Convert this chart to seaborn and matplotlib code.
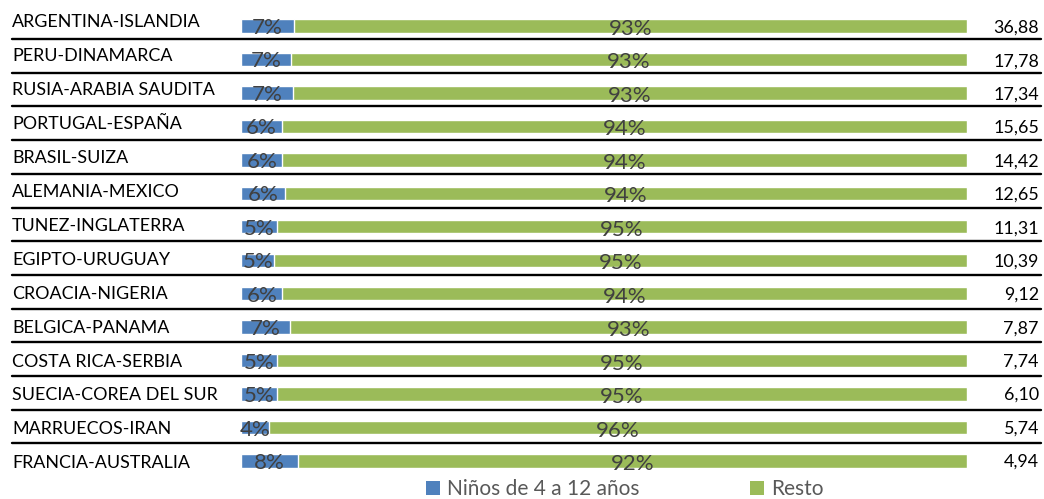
import matplotlib
matplotlib.use("Agg")
import matplotlib.pyplot as plt
import seaborn as sns
import pandas as pd
from matplotlib.patches import Patch

# ---------------- data ----------------
partidos = [
    "ARGENTINA-ISLANDIA", "PERU-DINAMARCA", "RUSIA-ARABIA SAUDITA",
    "PORTUGAL-ESPAÑA", "BRASIL-SUIZA", "ALEMANIA-MEXICO",
    "TUNEZ-INGLATERRA", "EGIPTO-URUGUAY", "CROACIA-NIGERIA",
    "BELGICA-PANAMA", "COSTA RICA-SERBIA", "SUECIA-COREA DEL SUR",
    "MARRUECOS-IRAN", "FRANCIA-AUSTRALIA",
]
ninos = [7.3, 6.9, 7.2, 5.6, 5.7, 6.0, 5.0, 4.6, 5.7, 6.8, 4.9, 5.0, 3.9, 7.8]
resto = [92.7, 93.1, 92.8, 94.4, 94.3, 94.0, 95.0, 95.4, 94.3, 93.2, 95.1, 95.0, 96.1, 92.2]
audiencia = [36.88, 17.78, 17.34, 15.65, 14.42, 12.65, 11.31, 10.39,
             9.12, 7.87, 7.74, 6.10, 5.74, 4.94]
series = ["Niños de 4 a 12 años", "Resto"]

BLUE = "#4F81BD"
GREEN = "#9BBB59"
PCT_COLOR = "#404040"
LEG_COLOR = "#595959"

sns.set_theme(style="white")
plt.rcParams["font.family"] = ["Lato", "DejaVu Sans"]

W, H = 1044, 499
fig = plt.figure(figsize=(W / 100, H / 100), dpi=100)

n = len(partidos)
row_h = 33.46
top_pix = 26 - row_h / 2
bot_pix = 26 + (n - 0.5) * row_h
x0, x1 = 241, 967
ax = fig.add_axes([x0 / W, (H - bot_pix) / H, (x1 - x0) / W, (bot_pix - top_pix) / H])

df = pd.DataFrame({
    "partido": partidos,
    "ninos": ninos,
    "total": [a + b for a, b in zip(ninos, resto)],
})

sns.barplot(data=df, y="partido", x="total", color=GREEN, orient="h",
            width=0.40, saturation=1, ax=ax)
sns.barplot(data=df, y="partido", x="ninos", color=BLUE, orient="h",
            width=0.40, saturation=1, ax=ax)
ax.set_xlim(0, 100)
ax.set_ylim(n - 0.5, -0.5)
ax.axis("off")

pct_fs = 16
lab_fs = 12.9
for i, (a, b) in enumerate(zip(ninos, resto)):
    ax.text(a / 2, i + 0.24, f"{round(a):.0f}%", ha="center", va="baseline",
            fontsize=pct_fs, color=PCT_COLOR)
    ax.text(a + b / 2, i + 0.27, f"{round(b):.0f}%", ha="center", va="baseline",
            fontsize=pct_fs, color=PCT_COLOR)

# row labels (left) and audience values (right)
for i, name in enumerate(partidos):
    yb = 27.3 + i * 33.92
    fig.text(12 / W, 1 - yb / H, name, ha="left", va="baseline",
             fontsize=lab_fs, color="black")
for i, v in enumerate(audiencia):
    yb = 33 + i * 33.36
    fig.text(1039 / W, 1 - yb / H, f"{v:.2f}".replace(".", ","), ha="right",
             va="baseline", fontsize=lab_fs, color="black")

# separator lines
for i in range(n - 1):
    yl = 39 + i * 33.7
    fig.add_artist(plt.Line2D([12 / W, 1041 / W], [1 - yl / H, 1 - yl / H],
                              color="black", lw=1.7, transform=fig.transFigure))

handles = [Patch(facecolor=BLUE, edgecolor="none"), Patch(facecolor=GREEN, edgecolor="none")]
fig.legend(handles, series, loc="center left", bbox_to_anchor=(426 / W, 1 - 489 / H),
           ncol=2, frameon=False, fontsize=15, handlelength=0.68, handleheight=0.68,
           handletextpad=0.34, columnspacing=5.3, borderpad=0, borderaxespad=0,
           labelcolor=LEG_COLOR)

fig.savefig("out.png", dpi=100)
